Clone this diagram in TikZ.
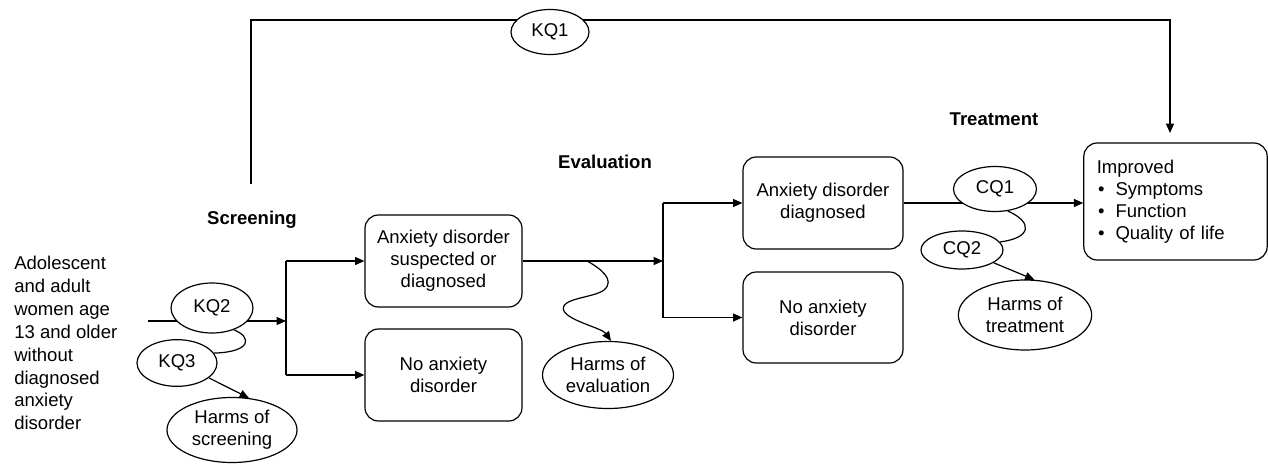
\documentclass[tikz,border=0pt]{standalone}
\usepackage{fontspec}
\setmainfont{Liberation Sans}
\usetikzlibrary{arrows.meta,shapes.geometric}
\begin{document}
\begin{tikzpicture}[x=0.75pt,y=-0.75pt,
  every node/.style={font=\fontsize{13.9pt}{16.5pt}\selectfont},
  line/.style={line width=0.9pt},
  arr/.style={line width=0.9pt,-{Triangle[length=7pt,width=6pt]}},
  box/.style={draw,line width=0.9pt,rounded corners=10pt,align=center,inner sep=2pt},
  oval/.style={draw,line width=0.9pt,ellipse,fill=white,inner sep=0pt,align=center},
  stage/.style={font=\fontsize{13.9pt}{16.5pt}\selectfont\bfseries}]
\useasboundingbox (0,0) rectangle (1268,464);

% stage labels
\node[stage] (lscr) at (252,220) {Screening};
\node[stage] (leva) at (605,162) {Evaluation};
\node[stage] (ltre) at (994,119) {Treatment};

% population
\node[anchor=west,align=left,font=\fontsize{13.9pt}{17.2pt}\selectfont,inner sep=0pt] (pop) at (14,343)
  {Adolescent\\and adult\\women age\\13 and older\\without\\diagnosed\\anxiety\\disorder};

% boxes
\node[box,minimum width=117.75pt,minimum height=69pt] (b1) at (443.5,261) {Anxiety disorder\\suspected or\\diagnosed};
\node[box,minimum width=117.75pt,minimum height=69pt] (b2) at (443.5,375) {No anxiety\\disorder};
\node[box,minimum width=120pt,minimum height=69pt] (b3) at (823,203) {Anxiety disorder\\diagnosed};
\node[box,minimum width=120pt,minimum height=68.25pt] (b4) at (823,317.5) {No anxiety\\disorder};
\node[box,align=left,text width=118pt,inner xsep=9.75pt,minimum height=87.75pt] (out) at (1175.5,201.5)
  {Improved\\\makebox[14pt][l]{\hspace{1pt}•}Symptoms\\\makebox[14pt][l]{\hspace{1pt}•}Function\\\makebox[14pt][l]{\hspace{1pt}•}Quality of life};

% coordinates
\coordinate (kqstart) at (251,184);
\coordinate (kqend) at (1170,133);
\coordinate (pstart) at (148,321);
\coordinate (sbr) at (286,321);
\coordinate (ebr) at (663,261);
\coordinate (wstart) at (587,261);

% KQ1 overarching
\draw[arr] (kqstart) |- (kqend |- 0,20) -- (kqend);

% screening
\draw[arr] (pstart) -- (sbr);
\draw[line] (sbr |- b1.west) -- (sbr |- b2.west);
\draw[arr] (sbr |- b1.west) -- (b1.west);
\draw[arr] (sbr |- b2.west) -- (b2.west);

% evaluation
\draw[arr] (b1.east) -- (ebr);
\draw[line] (ebr |- b3.west) -- (ebr |- b4.west);
\draw[arr] (ebr |- b3.west) -- (b3.west);
\draw[arr] (ebr |- b4.west) -- (b4.west);

% treatment
\draw[arr] (b3.east) -- (b3.east -| out.west);

% ovals
\node[oval,minimum width=58.5pt,minimum height=33.75pt] (kq1) at (550,32) {KQ1};
\node[oval,minimum width=61.5pt,minimum height=37.5pt] (kq2) at (212,308) {KQ2};
\node[oval,minimum width=60pt,minimum height=35pt] (kq3) at (177,363) {KQ3};
\node[oval,minimum width=97.5pt,minimum height=48.75pt] (hs) at (232,430) {Harms of\\screening};
\node[oval,minimum width=98.25pt,minimum height=50.25pt] (he) at (608,375) {Harms of\\evaluation};
\node[oval,minimum width=62.25pt,minimum height=33.75pt] (cq1) at (995,189) {CQ1};
\node[oval,minimum width=61.5pt,minimum height=28.5pt] (cq2) at (962,250) {CQ2};
\node[oval,minimum width=100pt,minimum height=52.5pt] (ht) at (1025,315) {Harms of\\treatment};

% squiggles and harms arrows
\draw[line] (kq2.-45) .. controls (252,337) and (252,352) .. (kq3.15);
\draw[arr] (kq3.-25) -- (hs.62);
\draw[arr] (wstart) .. controls (600,268) and (616,280) .. (604,290)
  .. controls (594,298) and (558,298) .. (564,311)
  .. controls (569,321) and (602,328) .. (he.85);
\draw[line] (cq1.-60) .. controls (1033,222) and (1032,238) .. (cq2.12);
\draw[arr] (cq2.-22) -- (ht.75);
\end{tikzpicture}
\end{document}
